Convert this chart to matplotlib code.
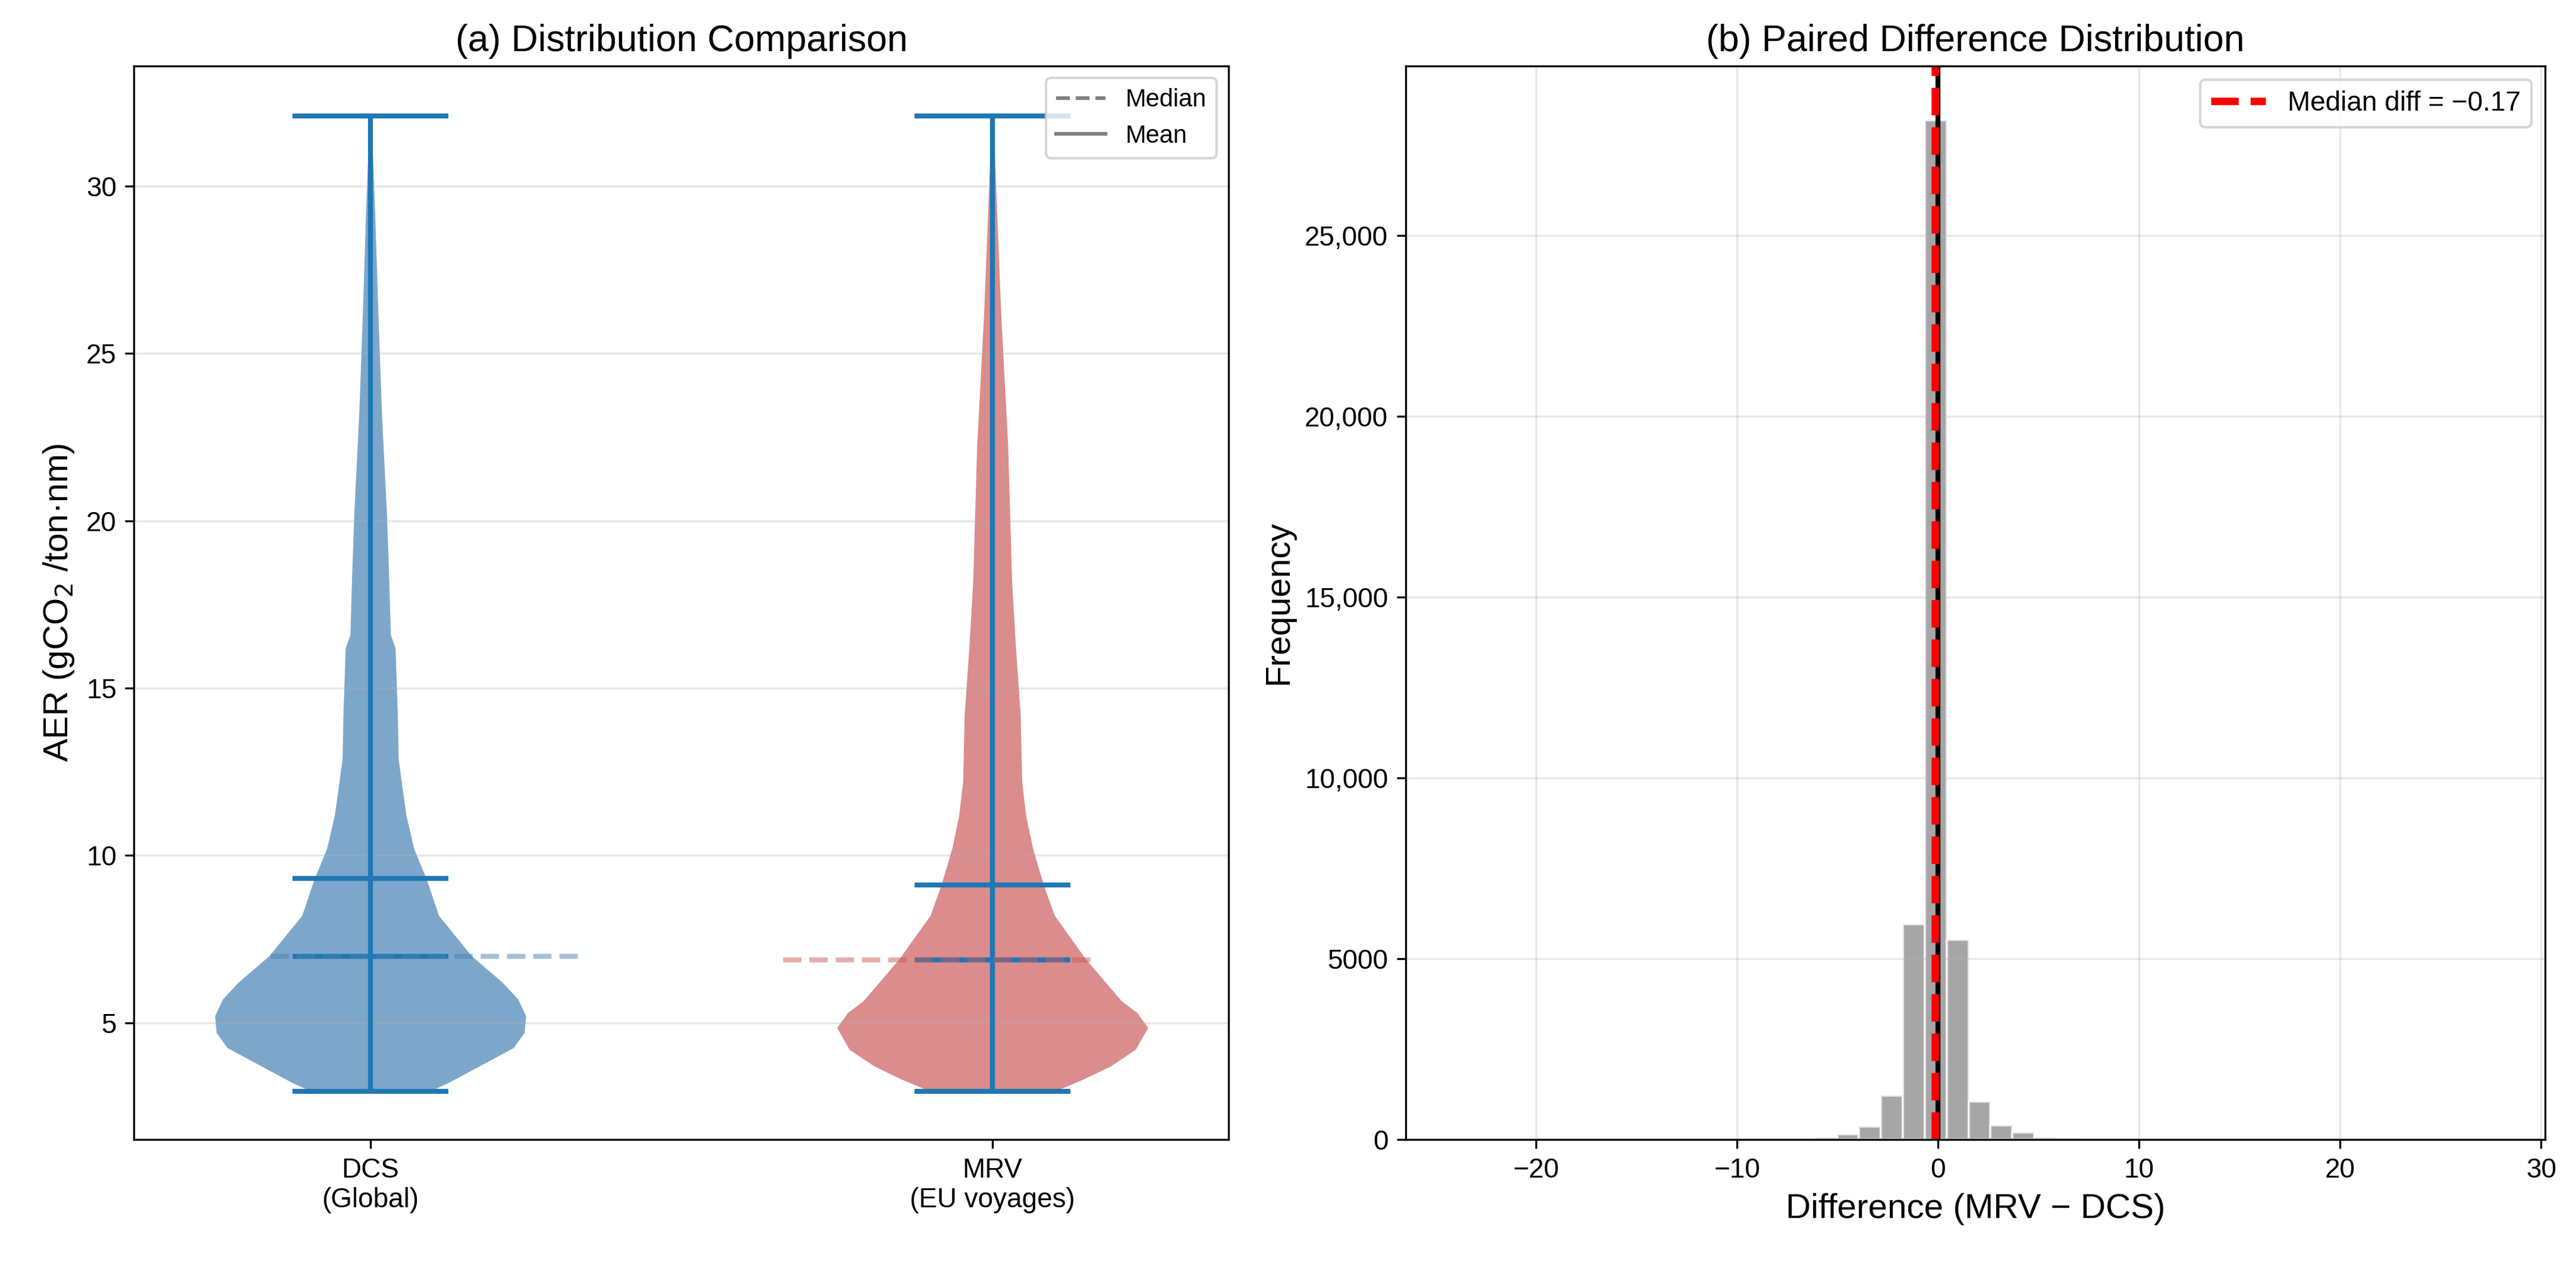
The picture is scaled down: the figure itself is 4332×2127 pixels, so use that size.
import numpy as np
import matplotlib.pyplot as plt
from matplotlib.ticker import FuncFormatter
from matplotlib.lines import Line2D

plt.rcParams['font.family'] = ['Liberation Sans', 'DejaVu Sans']

# violin profiles (y value, relative half width)
dcsY = [2.95, 3.2, 3.5, 3.9, 4.25, 4.7, 5.2, 5.7, 6.2, 7.0, 8.2, 9.3, 10.2, 11.2, 12.2, 12.9,
        14.2, 16.2, 16.6, 18.2, 20.2, 23.2, 26.2, 29.1, 32.1]
dcsW = [0.38, 0.5, 0.62, 0.78, 0.92, 0.99, 1.0, 0.95, 0.85, 0.65, 0.44, 0.36, 0.28, 0.23, 0.2, 0.18,
        0.175, 0.16, 0.13, 0.12, 0.105, 0.073, 0.05, 0.03, 0.005]
mrvY = [2.95, 3.3, 3.7, 4.2, 4.85, 5.3, 5.65, 6.9, 8.2, 9.1, 10.2, 11.2, 12.2, 14.2, 16.2, 18.2,
        22.2, 26.2, 29.1, 32.1]
mrvW = [0.4, 0.58, 0.76, 0.92, 1.0, 0.93, 0.83, 0.6, 0.4, 0.33, 0.26, 0.215, 0.19, 0.18, 0.15, 0.125,
        0.1, 0.055, 0.03, 0.005]
groups = ['DCS\n(Global)', 'MRV\n(EU voyages)']
stats = {  # min, max, mean, median
    'DCS': [2.95, 32.1, 9.32, 6.99],
    'MRV': [2.95, 32.1, 9.12, 6.87],
}

# paired difference histogram
binStart = -29.0
binWidth = 1.09
counts = [0]*17 + [3, 5, 10, 30, 70, 157, 366, 1220, 5960, 28200, 5540, 1060, 400, 210, 80, 40, 20, 10, 5, 3] + [0]*15
medianDiff = -0.17

fig = plt.figure(figsize=(14.44, 7.09), dpi=300)
ax1 = fig.add_axes([0.052, 0.099, 0.425, 0.849])
ax2 = fig.add_axes([0.5456, 0.099, 0.4424, 0.849])

colors = ['#4682B4', '#CD5C5C']
profiles = [(dcsY, dcsW), (mrvY, mrvW)]
dashSpan = [(-0.16, 0.336), (-0.336, 0.16)]
for i, key in enumerate(['DCS', 'MRV']):
    pos = i + 1
    y, w = profiles[i]
    hw = np.array(w) * 0.25
    ax1.fill_betweenx(y, pos - hw, pos + hw, color=colors[i], alpha=0.7, lw=0)
    mn, mx, mean, med = stats[key]
    ax1.vlines(pos, mn, mx, color='#1f77b4', lw=2)
    ax1.hlines([mn, mx, mean, med], pos - 0.125, pos + 0.125, color='#1f77b4', lw=2)
    ax1.hlines(med, pos + dashSpan[i][0], pos + dashSpan[i][1], color=colors[i], ls='--', lw=2, alpha=0.5)

ax1.set_xlim(0.62, 2.38)
ax1.set_ylim(1.5, 33.6)
ax1.set_xticks([1, 2])
ax1.set_xticklabels(groups, fontsize=11)
ax1.tick_params(labelsize=11)
ax1.set_ylabel('AER (gCO$_2$ /ton·nm)', fontsize=14)
ax1.set_title('(a) Distribution Comparison', fontsize=15)
ax1.grid(axis='y', alpha=0.3)
handles = [Line2D([], [], color='gray', ls='--', label='Median'),
           Line2D([], [], color='gray', ls='-', label='Mean')]
ax1.legend(handles=handles, loc='upper right', fontsize=10)

edges = binStart + binWidth * np.arange(len(counts) + 1)
ax2.bar(edges[:-1], counts, width=binWidth, align='edge', color='gray', alpha=0.7,
        edgecolor='white', lw=1)
ax2.axvline(0, color='black', lw=2)
ax2.axvline(medianDiff, color='red', ls='--', lw=3, label='Median diff = \u22120.17')
ax2.set_xlim(-26.5, 30.2)
ax2.set_ylim(0, 29700)
ax2.yaxis.set_major_formatter(FuncFormatter(lambda v, p: f'{int(v):,}' if v >= 10000 else f'{int(v)}'))
ax2.tick_params(labelsize=11)
ax2.set_xlabel('Difference (MRV \u2212 DCS)', fontsize=14)
ax2.set_ylabel('Frequency', fontsize=14)
ax2.set_title('(b) Paired Difference Distribution', fontsize=15)
ax2.grid(alpha=0.3)
ax2.legend(loc='upper right', fontsize=11)

fig.savefig('out.png', dpi=300)
